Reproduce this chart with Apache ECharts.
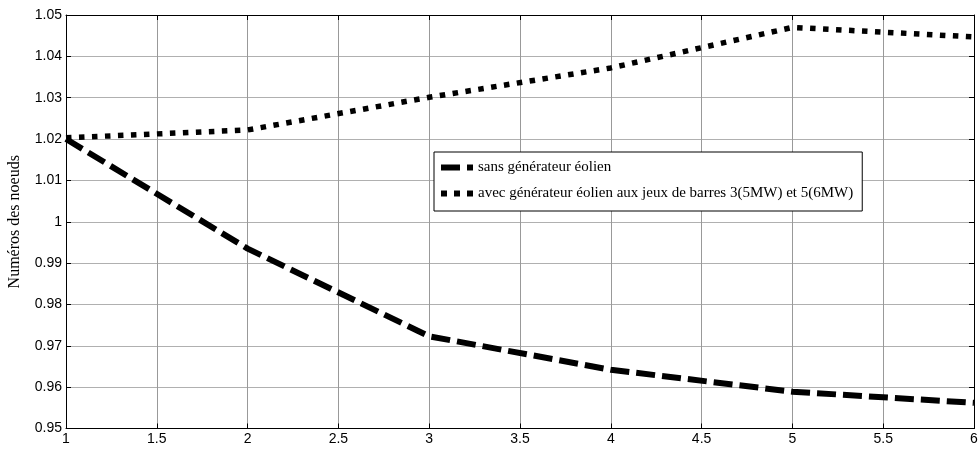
<!DOCTYPE html>
<html>
<head>
<meta charset="utf-8">
<script src="https://cdn.jsdelivr.net/npm/echarts@6/dist/echarts.min.js"></script>
<style>html,body{margin:0;padding:0;background:#fff}#c{width:979px;height:450px}</style>
</head>
<body>
<div id="c"></div>
<script>
const xValues = [1, 2, 3, 4, 5, 6];
const sansEolien = [1.02, 0.9935, 0.9723, 0.9642, 0.9589, 0.9562];
const avecEolien = [1.0203, 1.0222, 1.0301, 1.0372, 1.047, 1.0447];
const seriesNames = ['sans générateur éolien', 'avec générateur éolien aux jeux de barres 3(5MW) et 5(6MW)'];
const yAxisName = 'Numéros des noeuds';

const chart = echarts.init(document.getElementById('c'));
const tickFont = {fontFamily: 'Liberation Sans', fontSize: 14, color: '#000'};
const axisLine = {show: true, lineStyle: {color: '#000', width: 1}};
const iconDashed = 'path://M0 0H19V6H0Z M26 0H32V6H26Z';
const iconDotted = 'path://M0 0H6V6H0Z M13 0H19V6H13Z M26 0H32V6H26Z';
chart.setOption({
  animation: false,
  backgroundColor: '#fff',
  grid: {left: 66, right: 5, top: 15, bottom: 21.5, containLabel: false, outerBoundsMode: 'none'},
  legend: {
    left: 434, top: 152, orient: 'vertical',
    backgroundColor: '#fff', borderColor: '#000', borderWidth: 1,
    padding: [8, 9, 10, 7], itemGap: 11, itemWidth: 32, itemHeight: 6,
    textStyle: {fontFamily: 'Liberation Serif', fontSize: 15, color: '#000'},
    data: [{name: seriesNames[0], icon: iconDashed}, {name: seriesNames[1], icon: iconDotted}],
    itemStyle: {color: '#000', borderWidth: 0},
    lineStyle: {width: 0}
  },
  xAxis: [{
    type: 'value', min: 1, max: 6, interval: 0.5,
    axisLine: axisLine,
    axisTick: {show: true, inside: true, length: 5, lineStyle: {color: '#000'}},
    axisLabel: Object.assign({margin: 4}, tickFont),
    splitLine: {show: true, lineStyle: {color: '#999', width: 1}}
  }, {
    type: 'value', min: 1, max: 6, interval: 0.5, position: 'top',
    axisLine: axisLine,
    axisTick: {show: true, inside: true, length: 5, lineStyle: {color: '#000'}},
    axisLabel: {show: false}, splitLine: {show: false}
  }],
  yAxis: [{
    type: 'value', min: 0.95, max: 1.05, interval: 0.01,
    name: yAxisName, nameLocation: 'middle', nameGap: 43,
    nameTextStyle: {fontFamily: 'Liberation Serif', fontSize: 16, color: '#000'},
    axisLine: axisLine,
    axisTick: {show: true, inside: true, length: 5, lineStyle: {color: '#000'}},
    axisLabel: Object.assign({margin: 4, formatter: v => String(+v.toFixed(2))}, tickFont),
    splitLine: {show: true, lineStyle: {color: '#b0b0b0', width: 1}}
  }, {
    type: 'value', min: 0.95, max: 1.05, interval: 0.01, position: 'right',
    axisLine: axisLine,
    axisTick: {show: true, inside: true, length: 5, lineStyle: {color: '#000'}},
    axisLabel: {show: false}, splitLine: {show: false}
  }],
  series: [{
    name: seriesNames[0], type: 'line', symbol: 'none',
    data: xValues.map((x, i) => [x, sansEolien[i]]),
    lineStyle: {color: '#000', width: 6, type: [19, 7], cap: 'butt'},
    itemStyle: {color: '#000'}
  }, {
    name: seriesNames[1], type: 'line', symbol: 'none',
    data: xValues.map((x, i) => [x, avecEolien[i]]),
    lineStyle: {color: '#000', width: 5.5, type: [5.5, 7.5], cap: 'butt'},
    itemStyle: {color: '#000'}
  }]
});
</script>
</body>
</html>
